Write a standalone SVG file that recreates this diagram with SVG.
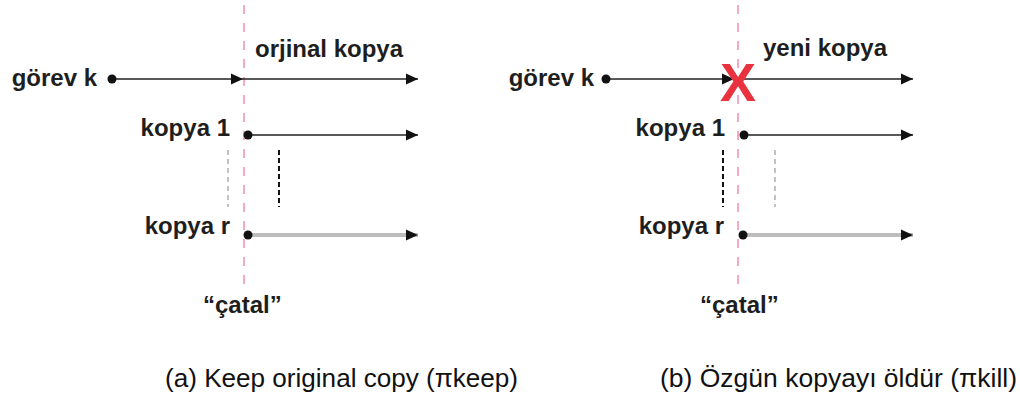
<svg xmlns="http://www.w3.org/2000/svg" width="1020" height="400" viewBox="0 0 1020 400">
  <style>
    .lbl { font-family: "Liberation Sans", Arial, sans-serif; font-weight: bold; font-size: 24px; fill: #1e1e1e; }
    .cap { font-family: "Liberation Sans", Arial, sans-serif; font-size: 26px; fill: #111; }
    .fork { stroke: #f5a9c9; stroke-width: 2; stroke-dasharray: 9 9; fill: none; }
    .run { stroke: #222; stroke-width: 1.6; fill: none; marker-end: url(#arrow); }
    .run-weak { stroke: #bdbdbd; stroke-width: 4; fill: none; marker-end: url(#arrow); }
    .gap-dark { stroke: #111; stroke-width: 2; stroke-dasharray: 5 3; }
    .gap-light { stroke: #9a9a9a; stroke-width: 1.2; stroke-dasharray: 5 4; }
    .dot { fill: #111; }
    .kill { font-family: "Liberation Sans", Arial, sans-serif; font-weight: bold; font-size: 54px; fill: #e8333f; }
  </style>
  <defs>
    <marker id="arrow" markerUnits="userSpaceOnUse" markerWidth="12" markerHeight="12" refX="12" refY="6" orient="auto">
      <path d="M0,0.5 L12,6 L0,11.5 z" fill="#111"/>
    </marker>
  </defs>
  <rect width="1020" height="400" fill="#fff"/>

  <!-- fork lines -->
  <g id="forks">
    <line class="fork" x1="244" y1="5" x2="244" y2="284"/>
    <line class="fork" x1="738" y1="5" x2="738" y2="284"/>
  </g>

  <!-- connectors -->
  <g id="connectors">
    <!-- (a) keep original -->
    <line class="run" x1="112" y1="79" x2="243" y2="79"/>
    <line class="run" x1="243" y1="79" x2="418" y2="79"/>
    <line class="run" x1="248" y1="135" x2="418" y2="135"/>
    <line class="run-weak" x1="248" y1="235" x2="418" y2="235"/>
    <line class="gap-light" x1="228" y1="150" x2="228" y2="207"/>
    <line class="gap-dark" x1="279" y1="150" x2="279" y2="207"/>
    <!-- (b) kill original -->
    <line class="run" x1="606" y1="79" x2="734" y2="79"/>
    <line class="run" x1="734" y1="79" x2="913" y2="79"/>
    <line class="run" x1="744" y1="135" x2="913" y2="135"/>
    <line class="run-weak" x1="743" y1="235" x2="913" y2="235"/>
    <line class="gap-dark" x1="723" y1="150" x2="723" y2="207"/>
    <line class="gap-light" x1="775" y1="150" x2="775" y2="207"/>
  </g>

  <!-- panel (a) nodes -->
  <g id="a-task">
    <text class="lbl" x="97" y="86" text-anchor="end">görev k</text>
    <circle class="dot" cx="112" cy="79" r="4.5"/>
  </g>
  <g id="a-original">
    <text class="lbl" x="255" y="57">orjinal kopya</text>
  </g>
  <g id="a-copy1">
    <text class="lbl" x="230" y="136" text-anchor="end">kopya 1</text>
    <circle class="dot" cx="248" cy="135" r="4.5"/>
  </g>
  <g id="a-copyr">
    <text class="lbl" x="230" y="234" text-anchor="end">kopya r</text>
    <circle class="dot" cx="248" cy="235" r="4.5"/>
  </g>
  <g id="a-fork">
    <text class="lbl" x="203" y="313">“çatal”</text>
  </g>

  <!-- panel (b) nodes -->
  <g id="b-task">
    <text class="lbl" x="594" y="86" text-anchor="end">görev k</text>
    <circle class="dot" cx="606" cy="79" r="4.5"/>
  </g>
  <g id="b-kill">
    <text class="kill" x="738" y="101" text-anchor="middle">X</text>
  </g>
  <g id="b-new">
    <text class="lbl" x="763" y="56">yeni kopya</text>
  </g>
  <g id="b-copy1">
    <text class="lbl" x="725" y="136" text-anchor="end">kopya 1</text>
    <circle class="dot" cx="744" cy="135" r="4.5"/>
  </g>
  <g id="b-copyr">
    <text class="lbl" x="724" y="234" text-anchor="end">kopya r</text>
    <circle class="dot" cx="743" cy="235" r="4.5"/>
  </g>
  <g id="b-fork">
    <text class="lbl" x="700" y="313">“çatal”</text>
  </g>

  <!-- captions -->
  <g id="captions">
    <text class="cap" x="165" y="387" textLength="353" lengthAdjust="spacingAndGlyphs">(a) Keep original copy (πkeep)</text>
    <text class="cap" x="660" y="387" textLength="357" lengthAdjust="spacingAndGlyphs">(b) Özgün kopyayı öldür (πkill)</text>
  </g>
</svg>
